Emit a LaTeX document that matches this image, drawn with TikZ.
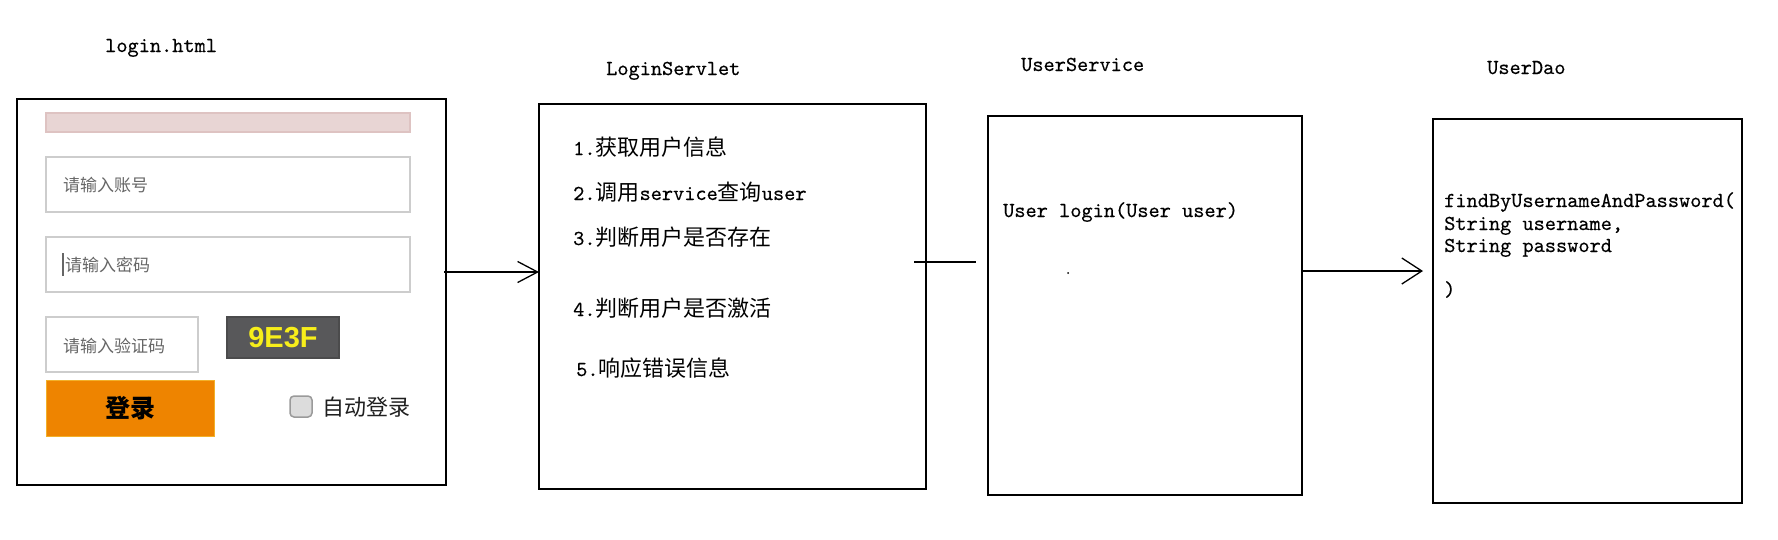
\documentclass[tikz,border=0pt]{standalone}
\usepackage{fontspec}
\setmonofont{lmmono10-regular.otf}[FakeBold=0.35]
\newfontfamily\cjk{Noto Sans CJK SC}
\newfontfamily\arialfont{Liberation Sans}
\usetikzlibrary{arrows.meta}
\definecolor{pinkfill}{HTML}{E8D5D4}
\definecolor{pinkdraw}{HTML}{DEC3C2}
\definecolor{fieldgray}{HTML}{CDCDCD}
\definecolor{hintgray}{HTML}{666666}
\definecolor{capbg}{HTML}{58585A}
\definecolor{capfg}{HTML}{F7EE1A}
\definecolor{btnorange}{HTML}{EE8400}
\definecolor{btnedge}{HTML}{F2B02A}
\definecolor{chkfill}{HTML}{DCDCDC}
\definecolor{chkdraw}{HTML}{9A9A9A}
\newcommand\mytt[1]{{\ttfamily\fontsize{21.3pt}{23pt}\selectfont #1}}
\newcommand\myzh[1]{{\cjk\fontsize{22pt}{26pt}\selectfont #1}}
\tikzset{
  bigbox/.style={draw=black, line width=1.6pt, fill=white, anchor=north west, inner sep=0pt, outer sep=0pt},
  field/.style={draw=fieldgray, line width=1.5pt, anchor=north west, inner sep=0pt, outer sep=0pt},
  hint/.style={anchor=west, inner sep=0pt, text=hintgray, font=\cjk\fontsize{17pt}{20pt}\selectfont},
  label/.style={anchor=base west, inner sep=0pt, font=\ttfamily\fontsize{21.3pt}{23pt}\selectfont},
  code/.style={anchor=base west, inner sep=0pt, font=\ttfamily\fontsize{21.3pt}{23pt}\selectfont},
  item/.style={anchor=base west, inner sep=0pt},
  arr/.style={line width=1.4pt, -{Straight Barb[length=20pt, width=21pt, line width=1.3pt]}},
  arrb/.style={line width=1.4pt, -{Straight Barb[length=20pt, width=26pt, line width=1.3pt]}},
  plain/.style={line width=1.4pt}
}
\begin{document}
\begin{tikzpicture}[x=1pt, y=-1pt]
\useasboundingbox (0,0) rectangle (1778,539);
\fill[white] (0,0) rectangle (1778,539);

% titles
\node[label] (tlogin) at (105,52) {login.html};
\node[label] (tservlet) at (606,75) {LoginServlet};
\node[label] (tservice) at (1021,71) {UserService};
\node[label] (tdao) at (1487,74) {UserDao};

% main boxes
\node[bigbox, minimum width=429pt, minimum height=386pt] (login) at (17,99) {};
\node[bigbox, minimum width=387pt, minimum height=385pt] (servlet) at (539,104) {};
\node[bigbox, minimum width=314pt, minimum height=379pt] (service) at (988,116) {};
\node[bigbox, minimum width=309pt, minimum height=384pt] (dao) at (1433,119) {};

% login form
\node[field, draw=pinkdraw, fill=pinkfill, minimum width=364pt, minimum height=19pt] (pinkbar) at (46,113) {};
\node[field, minimum width=364pt, minimum height=55pt] (f1) at (46,157) {};
\node[field, minimum width=364pt, minimum height=55pt] (f2) at (46,237) {};
\node[field, minimum width=152pt, minimum height=55pt] (f3) at (46,317) {};
\node[hint] (h1) at (63,185) {请输入账号};
\draw[hintgray, line width=1.2pt] (63,253) -- (63,276);
\node[hint] (h2) at (65,265) {请输入密码};
\node[hint] (h3) at (63,346) {请输入验证码};
\node[field, draw=capbg!85!black, fill=capbg, minimum width=112pt, minimum height=41pt] (cap) at (227,317) {};
\node[inner sep=0pt, text=capfg, font=\arialfont\bfseries\fontsize{29pt}{30pt}\selectfont] (captext) at (cap.center) {9E3F};
\node[field, draw=btnedge, fill=btnorange, line width=1pt, minimum width=168pt, minimum height=56pt] (btn) at (46,380) {};
\node[inner sep=0pt, font=\cjk\bfseries\fontsize{25pt}{28pt}\selectfont] (btntext) at (130,408) {登录};
\node[field, draw=chkdraw, fill=chkfill, rounded corners=4pt, line width=1.5pt, minimum width=22pt, minimum height=21pt] (chk) at (290,396) {};
\node[anchor=west, inner sep=0pt, text=black!88, font=\cjk\fontsize{22pt}{26pt}\selectfont] (auto) at (322,407) {自动登录};

% servlet items
\node[item] (i1) at (573,155) {\mytt{1.}\myzh{获取用户信息}};
\node[item] (i2) at (573,200) {\mytt{2.}\myzh{调用}\mytt{service}\myzh{查询}\mytt{user}};
\node[item] (i3) at (573,245) {\mytt{3.}\myzh{判断用户是否存在}};
\node[item] (i4) at (573,316) {\mytt{4.}\myzh{判断用户是否激活}};
\node[item] (i5) at (576,376) {\mytt{5.}\myzh{响应错误信息}};

% service text
\node[code] (s1) at (1003,217) {User login(User user)};
\fill (1068,273) circle (1pt);

% dao text
\node[code] (d1) at (1444,207) {findByUsernameAndPassword(};
\node[code] (d2) at (1444,230) {String username,};
\node[code] (d3) at (1444,252) {String password};
\node[code] (d4) at (1444,296) {)};

% connectors
\coordinate (y1) at (0,272);
\coordinate (y2) at (0,262);
\coordinate (y3) at (0,271);
\draw[arr] ([xshift=-2pt]login.east |- y1) -- (servlet.west |- y1);
\draw[plain] ([xshift=-12pt]servlet.east |- y2) -- ([xshift=-12pt]service.west |- y2);
\draw[arrb, shorten >=10pt] (service.east |- y3) -- (dao.west |- y3);
\end{tikzpicture}
\end{document}
